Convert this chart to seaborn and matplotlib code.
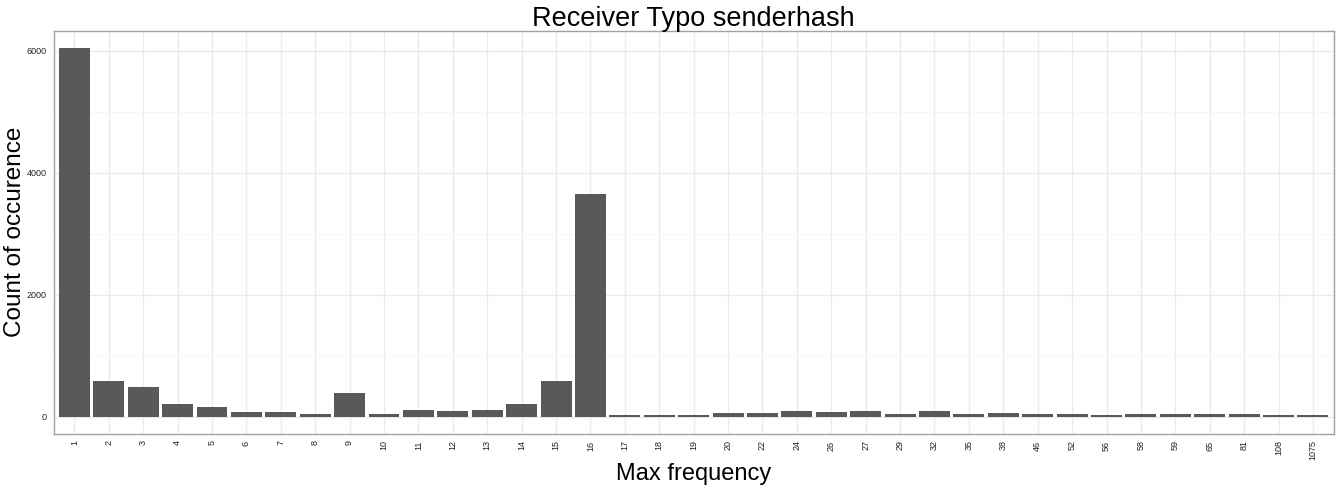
import matplotlib
matplotlib.use('Agg')
import matplotlib.pyplot as plt
import pandas as pd
import seaborn as sns

# max frequency categories and how often each one occurs
max_freq = ['1', '2', '3', '4', '5', '6', '7', '8', '9', '10', '11', '12', '13',
            '14', '15', '16', '17', '18', '19', '20', '22', '24', '26', '27', '29',
            '32', '35', '38', '46', '52', '56', '58', '59', '65', '81', '108', '1075']
counts = [6040, 590, 490, 208, 164, 70, 85, 52, 394, 52, 118, 100, 118,
          208, 585, 3650, 22, 22, 22, 55, 55, 90, 72, 90, 38,
          90, 38, 55, 38, 38, 22, 38, 38, 38, 38, 22, 22]

df = pd.DataFrame({'freq': max_freq, 'count': counts})

sns.set_style('white')
plt.rcParams['font.family'] = ['Liberation Sans', 'DejaVu Sans']
plt.rcParams['text.color'] = 'black'
plt.rcParams['axes.labelcolor'] = 'black'

fig, ax = plt.subplots(figsize=(13.43, 4.86), dpi=100)
fig.subplots_adjust(left=0.040, right=0.993, top=0.937, bottom=0.108)

sns.barplot(data=df, x='freq', y='count', order=max_freq, color='#595959',
            saturation=1, width=0.9, linewidth=0, ax=ax, zorder=3)

# ggplot theme_bw look
ax.set_xlim(-0.6, len(max_freq) - 0.4)
ax.set_ylim(-275, 6330)
ax.set_yticks([0, 2000, 4000, 6000])
ax.set_yticks([1000, 3000, 5000], minor=True)
ax.grid(True, which='major', color='#EBEBEB', linewidth=1.0, zorder=0)
ax.grid(True, which='minor', axis='y', color='#F5F5F5', linewidth=0.6, zorder=0)
ax.set_axisbelow(True)
for s in ax.spines.values():
    s.set_color('#A0A0A0')
    s.set_linewidth(1.0)

ax.tick_params(axis='both', which='major', length=3, color='#333333',
               labelsize=6.5, labelcolor='#222222', pad=2)
ax.tick_params(axis='y', which='minor', length=0)
ax.tick_params(axis='x', labelrotation=90)

ax.set_title('Receiver Typo senderhash', fontsize=19.5, pad=3, color='black')
ax.set_xlabel('Max frequency', fontsize=17, labelpad=2)
ax.set_ylabel('Count of occurence', fontsize=17.5)
ax.yaxis.set_label_coords(-0.0215, 0.5)

fig.savefig('out.png', dpi=100)
